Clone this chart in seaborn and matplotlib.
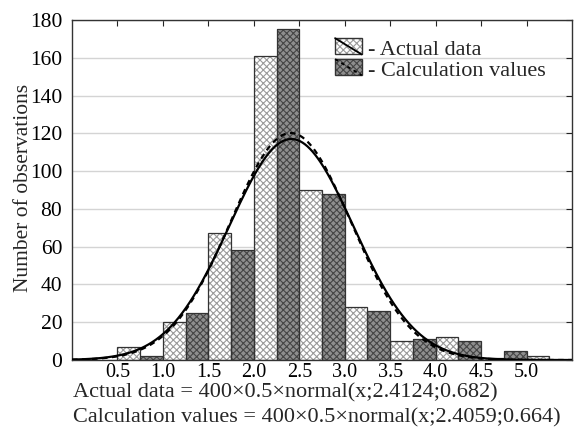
import numpy as np
import pandas as pd
import matplotlib
matplotlib.use("Agg")
import matplotlib.pyplot as plt
import seaborn as sns
from matplotlib.patches import Patch, Rectangle
from matplotlib.lines import Line2D

# ---- data ----
bin_starts = [0.5, 1.0, 1.5, 2.0, 2.5, 3.0, 3.5, 4.0, 4.5, 5.0]
actual_counts = [7, 20, 67, 161, 90, 28, 10, 12, 1, 2]
calc_counts = [2, 25, 58, 175, 88, 26, 11, 10, 5, 0]
x_ticks = [0.5, 1.0, 1.5, 2.0, 2.5, 3.0, 3.5, 4.0, 4.5, 5.0]
x_tick_labels = ["0.5", "1.0", "1.5", "2.0", "2.5", "3.0", "3.5", "4.0", "4.5", "5.0"]
y_ticks = [0, 20, 40, 60, 80, 100, 120, 140, 160, 180]
# fitted normal curves: N * binwidth * normal(x; mean; sd) (from the annotation)
fit_n = [400, 400]
fit_bw = [0.5, 0.5]
fit_mean = [2.4124, 2.4059]
fit_sd = [0.682, 0.664]
series_names = ["Actual data", "Calculation values"]
formula_texts = ["Actual data = 400×0.5×normal(x;2.4124;0.682)",
                 "Calculation values = 400×0.5×normal(x;2.4059;0.664)"]

sns.set_theme(style="white")
plt.rcParams["font.family"] = ["Liberation Serif", "DejaVu Serif"]
plt.rcParams["hatch.linewidth"] = 0.8

fig = plt.figure(figsize=(5.8, 4.32), dpi=100)
ax = fig.add_axes([72 / 580, 1 - 360 / 432, 500 / 580, 340 / 432])

bw = 0.25
light_face, light_hatch = "white", "#9a9a9a"
dark_face, dark_hatch = "#8e8e8e", "#454545"
outline = "#333333"

a_left = np.array(bin_starts)
c_left = a_left + bw
# hatch layer
ax.bar(a_left, actual_counts, width=bw, align="edge", color=light_face,
       edgecolor=light_hatch, hatch="xxxxx", linewidth=0, zorder=2)
ax.bar(c_left, calc_counts, width=bw, align="edge", color=dark_face,
       edgecolor=dark_hatch, hatch="xxxxx", linewidth=0, zorder=2)
# outline layer
ax.bar(a_left, actual_counts, width=bw, align="edge", fill=False,
       edgecolor=outline, linewidth=0.9, zorder=3)
ax.bar(c_left, calc_counts, width=bw, align="edge", fill=False,
       edgecolor=outline, linewidth=0.9, zorder=3)

xs = np.linspace(0.0, 5.5, 400)
rows = []
for name, n, b, m, s in zip(series_names, fit_n, fit_bw, fit_mean, fit_sd):
    ys = n * b * np.exp(-0.5 * ((xs - m) / s) ** 2) / (s * np.sqrt(2 * np.pi))
    rows.append(pd.DataFrame({"x": xs, "y": ys, "series": name}))
curves = pd.concat(rows, ignore_index=True)
sns.lineplot(data=curves[curves.series == series_names[0]], x="x", y="y", ax=ax,
             color="black", linewidth=1.6, zorder=5, legend=False)
sns.lineplot(data=curves[curves.series == series_names[1]], x="x", y="y", ax=ax,
             color="black", linewidth=1.6, linestyle=(0, (2.5, 2)), zorder=4, legend=False)

ax.set_xlim(0, 5.5)
ax.set_ylim(0, 180)
ax.set_xticks(x_ticks)
ax.set_xticklabels(x_tick_labels)
ax.set_yticks(y_ticks)
ax.yaxis.grid(True, color="#d4d4d4", linewidth=1.0, zorder=0)
ax.xaxis.grid(False)
ax.set_axisbelow(True)
ax.tick_params(axis="both", which="both", direction="in", length=4, width=0.8,
               top=True, right=True, bottom=False, left=False, labelsize=15.5,
               colors="#222222", labelcolor="black", pad=7)
ax.tick_params(axis="x", pad=2, labelsize=14.5)
for sp in ax.spines.values():
    sp.set_color("#333333")
    sp.set_linewidth(1.0)
ax.set_xlabel("")
ax.set_ylabel("Number of observations", fontsize=15.5)
ax.yaxis.set_label_coords(-0.078, 0.505)


class HatchLineHandler:
    def __init__(self, face, hatchc, ls):
        self.face, self.hatchc, self.ls = face, hatchc, ls

    def legend_artist(self, legend, orig_handle, fontsize, handlebox):
        x0, y0 = handlebox.xdescent, handlebox.ydescent
        w, h = handlebox.width, handlebox.height
        tr = handlebox.get_transform()
        r1 = Rectangle((x0, y0), w, h, facecolor=self.face, edgecolor=self.hatchc,
                       hatch="xxxxx", linewidth=0, transform=tr)
        r2 = Rectangle((x0, y0), w, h, fill=False, edgecolor=outline,
                       linewidth=1.0, transform=tr)
        ln = Line2D([x0, x0 + w], [y0 + h, y0], color="black", linewidth=1.3,
                    linestyle=self.ls, transform=tr)
        handlebox.add_artist(r1)
        handlebox.add_artist(r2)
        handlebox.add_artist(ln)
        return r1


h1 = Patch(label="a")
h2 = Patch(label="b")
ax.legend([h1, h2], ["- " + series_names[0], "- " + series_names[1]],
          handler_map={h1: HatchLineHandler(light_face, light_hatch, "-"),
                       h2: HatchLineHandler(dark_face, dark_hatch, (0, (2, 2)))},
          loc="upper left", bbox_to_anchor=(0.495, 0.99), frameon=False,
          fontsize=16, handlelength=1.2, handleheight=0.75, handletextpad=0.28,
          labelspacing=0.0, borderpad=0.2)

fig.text(73 / 580, 1 - 397 / 432, formula_texts[0], fontsize=16, va="baseline", ha="left")
fig.text(73 / 580, 1 - 422 / 432, formula_texts[1], fontsize=16, va="baseline", ha="left")

fig.savefig("out.png", dpi=100)
